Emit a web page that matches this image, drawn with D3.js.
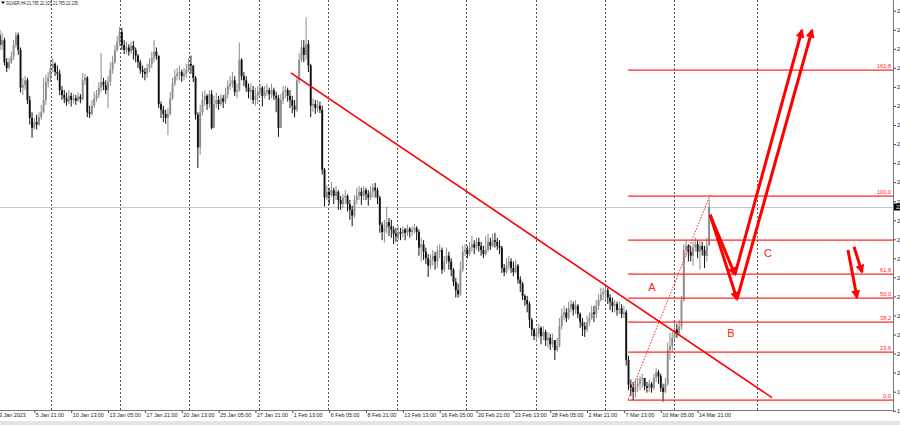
<!DOCTYPE html>
<html><head><meta charset="utf-8">
<script src="https://cdn.jsdelivr.net/npm/d3@7/dist/d3.min.js"></script>
<style>html,body{margin:0;padding:0;background:#fff;overflow:hidden}svg{display:block}</style>
</head><body>
<svg id="c" width="900" height="425"></svg>
<script>
// ---------- DATA ----------
const symbolTitle = "SILVER,H4";
const lastBarOHLC = ["21.765", "22.325", "21.765", "22.235"];
const firstOpen = 24.27;
const closes = [
24.33,24.21,24.27,24.00,23.93,24.00,24.07,24.21,24.33,24.15,
23.69,23.72,23.78,23.54,23.32,23.20,23.27,23.24,23.33,23.39,
23.54,23.76,23.81,23.93,23.98,23.88,23.86,23.66,23.60,23.56,
23.52,23.59,23.54,23.56,23.53,23.58,23.55,23.78,23.81,23.39,
23.37,23.47,23.56,23.60,23.69,23.76,23.72,23.66,23.76,23.91,
24.00,24.15,24.25,24.37,24.21,24.15,24.18,24.13,24.20,24.15,
24.08,24.00,23.91,23.88,23.86,23.93,23.98,24.05,24.13,24.08,
23.49,23.42,23.37,23.32,23.37,23.56,23.74,23.83,23.86,23.88,
23.83,23.86,23.91,23.98,23.96,23.81,23.36,22.96,23.39,23.54,
23.59,23.49,23.61,23.20,23.49,23.54,23.49,23.56,23.52,23.61,
23.71,23.74,23.78,23.64,23.66,24.03,23.83,23.78,23.69,23.64,
23.66,23.54,23.59,23.64,23.69,23.59,23.64,23.66,23.61,23.66,
23.59,23.56,23.20,23.54,23.64,23.66,23.59,23.54,23.47,23.42,
23.78,24.03,24.18,24.09,24.22,23.96,23.47,23.49,23.44,23.47,
23.42,22.69,22.35,22.42,22.38,22.44,22.37,22.42,22.32,22.27,
22.35,22.37,22.27,22.20,22.13,22.32,22.37,22.42,22.37,22.44,
22.39,22.35,22.42,22.47,22.44,22.35,22.02,21.93,21.98,22.05,
22.00,21.96,21.91,21.88,21.93,21.91,21.96,21.92,21.97,21.93,
21.96,21.98,21.93,21.74,21.78,21.69,21.61,21.52,21.59,21.64,
21.57,21.69,21.71,21.47,21.57,21.64,21.57,21.47,21.32,21.22,
21.17,21.47,21.69,21.71,21.66,21.74,21.78,21.74,21.81,21.76,
21.71,21.66,21.71,21.81,21.76,21.83,21.81,21.76,21.74,21.49,
21.44,21.52,21.57,21.49,21.44,21.52,21.35,21.30,21.15,21.10,
21.05,20.86,20.74,20.66,20.69,20.76,20.66,20.71,20.61,20.64,
20.56,20.61,20.49,20.54,20.78,20.91,20.95,20.88,21.00,21.05,
20.98,21.03,20.93,20.83,20.78,20.74,20.83,20.88,20.95,20.93,
21.03,21.10,21.17,21.20,21.22,21.13,21.08,21.03,21.05,20.98,
21.00,20.93,20.95,20.37,20.07,20.03,19.98,20.05,20.08,20.13,
20.15,20.05,20.03,20.08,20.03,20.15,20.22,20.17,20.03,19.98,
20.08,20.49,20.54,20.64,20.74,20.69,20.78,21.10,21.71,21.76,
21.69,21.64,21.74,21.78,21.69,21.76,21.71,21.64,21.765,22.235];
const highs = [
24.45,24.39,24.36,24.30,24.05,24.05,24.13,24.27,24.37,24.36,
24.18,23.81,23.83,23.81,23.59,23.39,23.32,23.36,23.39,23.48,
23.81,23.85,23.88,24.03,24.05,24.00,23.96,23.91,23.71,23.66,
23.63,23.66,23.63,23.61,23.60,23.63,23.61,23.87,23.86,23.83,
23.47,23.54,23.64,23.66,23.76,24.11,23.81,23.78,23.83,24.00,
24.08,24.21,24.32,24.43,24.42,24.27,24.25,24.22,24.25,24.26,
24.18,24.10,24.03,23.96,23.93,23.98,24.05,24.13,24.27,24.18,
24.03,23.52,23.47,23.42,23.44,23.64,23.81,23.91,23.93,23.96,
23.91,23.93,23.98,24.05,24.08,23.93,23.83,23.39,23.48,23.64,
23.66,23.61,23.66,23.66,23.59,23.63,23.59,23.61,23.60,23.69,
23.78,23.83,23.88,23.83,23.74,24.24,24.05,23.88,23.83,23.74,
23.74,23.71,23.69,23.71,23.74,23.71,23.71,23.74,23.69,23.74,
23.69,23.64,23.60,23.61,23.71,23.71,23.69,23.66,23.59,23.54,
23.83,24.11,24.27,24.27,24.55,24.27,23.98,23.56,23.54,23.54,
23.52,23.47,22.71,22.50,22.47,22.54,22.47,22.49,22.44,22.37,
22.39,22.44,22.39,22.32,22.25,22.38,22.47,22.49,22.47,22.49,
22.47,22.44,22.49,22.52,22.53,22.47,22.37,22.05,22.08,22.24,
22.10,22.08,22.00,21.98,22.00,21.98,22.00,21.98,22.02,21.99,
22.00,22.03,22.00,21.96,21.86,21.83,21.74,21.66,21.66,21.71,
21.69,21.76,21.78,21.74,21.64,21.74,21.69,21.61,21.49,21.37,
21.30,21.57,21.76,21.78,21.76,21.81,21.88,21.83,21.86,21.86,
21.81,21.76,21.88,21.91,21.86,21.91,21.92,21.86,21.83,21.76,
21.54,21.61,21.64,21.61,21.57,21.59,21.54,21.39,21.32,21.17,
21.15,21.08,20.88,20.76,20.76,20.81,20.78,20.78,20.74,20.71,
20.69,20.69,20.61,20.64,20.88,21.00,21.03,21.00,21.08,21.10,
21.08,21.10,21.05,20.95,20.88,20.83,20.91,20.95,21.03,21.03,
21.10,21.17,21.25,21.25,21.28,21.25,21.17,21.13,21.10,21.08,
21.08,21.05,21.03,20.98,20.42,20.13,20.10,20.13,20.15,20.17,
20.20,20.15,20.10,20.13,20.10,20.20,20.27,20.25,20.20,20.08,
20.15,20.58,20.70,20.71,20.83,20.81,20.86,21.15,21.78,21.83,
21.78,21.76,21.81,21.86,21.83,21.83,21.81,21.76,21.86,22.325];
const lows = [
24.21,24.15,24.15,23.96,23.88,23.91,23.98,24.03,24.18,24.09,
23.63,23.60,23.66,23.49,23.24,23.08,23.18,23.18,23.22,23.30,
23.38,23.48,23.69,23.76,23.88,23.83,23.78,23.60,23.54,23.50,
23.47,23.49,23.46,23.50,23.48,23.52,23.50,23.53,23.72,23.33,
23.32,23.35,23.44,23.52,23.56,23.64,23.66,23.61,23.44,23.71,
23.86,23.98,24.13,24.20,24.15,24.10,24.10,24.08,24.10,24.03,
24.00,23.93,23.86,23.81,23.78,23.81,23.88,23.93,24.00,24.03,
23.44,23.32,23.27,23.25,23.11,23.35,23.54,23.71,23.78,23.78,
23.76,23.78,23.81,23.88,23.86,23.76,23.30,22.71,22.87,23.35,
23.47,23.42,23.44,23.18,23.20,23.44,23.42,23.47,23.44,23.49,
23.56,23.66,23.69,23.59,23.56,23.64,23.78,23.71,23.64,23.56,
23.54,23.49,23.47,23.49,23.59,23.46,23.56,23.59,23.54,23.56,
23.54,23.39,23.09,23.25,23.49,23.56,23.52,23.44,23.38,23.33,
23.39,23.74,24.00,24.00,24.03,23.88,23.33,23.39,23.37,23.39,
23.38,22.63,22.24,22.32,22.26,22.35,22.27,22.32,22.20,22.20,
22.22,22.27,22.18,22.08,22.00,22.10,22.27,22.32,22.26,22.32,
22.32,22.25,22.32,22.35,22.35,22.27,21.92,21.83,21.80,21.91,
21.88,21.86,21.78,21.81,21.83,21.83,21.86,21.83,21.88,21.86,
21.88,21.91,21.83,21.64,21.57,21.59,21.54,21.38,21.47,21.52,
21.47,21.49,21.61,21.42,21.44,21.54,21.47,21.39,21.27,21.13,
21.13,21.15,21.44,21.64,21.61,21.64,21.69,21.66,21.71,21.69,
21.64,21.61,21.64,21.69,21.71,21.74,21.74,21.71,21.66,21.43,
21.39,21.42,21.47,21.43,21.39,21.42,21.30,21.20,21.10,21.03,
20.95,20.76,20.66,20.61,20.59,20.64,20.56,20.61,20.54,20.52,
20.49,20.52,20.37,20.47,20.52,20.74,20.86,20.83,20.86,20.95,
20.91,20.93,20.88,20.76,20.66,20.65,20.71,20.78,20.86,20.83,
20.88,20.98,21.08,21.10,21.10,21.05,20.98,20.95,20.95,20.91,
20.93,20.88,20.88,20.30,20.00,19.93,19.88,19.91,19.98,20.00,
20.03,20.00,19.97,19.98,19.97,20.00,20.10,20.08,19.98,19.86,
19.96,20.05,20.37,20.47,20.61,20.64,20.66,20.74,21.08,21.64,
21.57,21.57,21.52,21.69,21.61,21.47,21.64,21.49,21.57,21.765];

const timeTickBars = [0,16,32,48,64,80,96,112,128,144,160,176,192,208,224,240,256,272,288,304];
const timeLabels = ["3 Jan 2023","5 Jan 21:00","10 Jan 13:00","13 Jan 05:00","17 Jan 21:00","20 Jan 13:00",
  "25 Jan 05:00","27 Jan 21:00","1 Feb 13:00","6 Feb 05:00","8 Feb 21:00","13 Feb 13:00","16 Feb 05:00",
  "20 Feb 21:00","23 Feb 13:00","28 Feb 05:00","2 Mar 21:00","7 Mar 13:00","10 Mar 05:00","14 Mar 21:00"];
const separatorBars = [23.25,53.25,83.25,113.5,143.5,173.5,203.5,233.75,263.75,293.75,329.75];
const priceTicks = [24.628,24.396,24.164,23.931,23.699,23.467,23.235,23.002,22.770,22.538,22.305,
  22.073,21.841,21.608,21.376,21.144,20.912,20.679,20.447,20.215,19.982,19.750];
const bidPrice = 22.235;

// Fibonacci retracement
const fibStartBar = 273.8, fibEndBar = 309.4;
const fibLow = 19.89, fibHigh = 22.38;
const fibLevels = [0, 23.6, 38.2, 50.0, 61.8, 78.6, 100.0, 161.8];
const fibLabels = ["0.0","23.6","38.2","50.0","61.8","","100.0","161.8"];

// trend line
const trendLine = [{bar:127.4, price:23.87},{bar:336.3, price:19.91}];

// projected arrows (from -> to)
const arrows = [
  {from:{bar:309.4,price:22.14}, to:{bar:320.2,price:21.41}},
  {from:{bar:320.2,price:21.41}, to:{bar:349.3,price:24.39}},
  {from:{bar:309.4,price:22.14}, to:{bar:321.1,price:21.11}},
  {from:{bar:321.1,price:21.11}, to:{bar:353.7,price:24.39}},
  {from:{bar:369.3,price:21.71}, to:{bar:373.2,price:21.13}},
  {from:{bar:371.9,price:21.75}, to:{bar:375.4,price:21.44}}
];
const waveLabels = [
  {text:"A", bar:284.2, price:21.26},
  {text:"B", bar:318.5, price:20.70},
  {text:"C", bar:334.6, price:21.67}
];

// ---------- CHART ----------
const svg = d3.select("#c");
const plotR = 893, plotB = 410;
const x = d3.scaleLinear().domain([0, 100]).range([-2.5, -2.5 + 230.3]);
const y = d3.scaleLinear().domain([19.759, 24.759]).range([plotB, 0]);
const FONT = "'Liberation Sans', Arial, sans-serif";
const RED = "rgb(255,0,0)";
const FIBRED = "rgb(255,30,30)";

svg.append("rect").attr("width",900).attr("height",425).attr("fill","#fff");
svg.append("rect").attr("x",0).attr("y",421).attr("width",900).attr("height",4).attr("fill","#e4e4e4");

const defs = svg.append("defs");
defs.append("clipPath").attr("id","plot").append("rect").attr("x",0).attr("y",0).attr("width",plotR).attr("height",plotB);
defs.append("marker").attr("id","ah").attr("viewBox","0 0 10 10").attr("refX",8).attr("refY",5)
  .attr("markerWidth",10).attr("markerHeight",9).attr("markerUnits","userSpaceOnUse").attr("orient","auto")
  .append("path").attr("d","M0,0 L10,5 L0,10 z").style("fill",RED);

const plot = svg.append("g").attr("clip-path","url(#plot)");

// weekly separators
plot.selectAll("line.sep").data(separatorBars).join("line").attr("class","sep")
  .attr("x1",d=>Math.round(x(d))+0.5).attr("x2",d=>Math.round(x(d))+0.5)
  .attr("y1",0).attr("y2",plotB)
  .style("stroke","#555").style("stroke-width",1).style("stroke-dasharray","2,2");

// bid line
plot.append("line").attr("x1",0).attr("x2",plotR).attr("y1",Math.round(y(bidPrice))+0.5).attr("y2",Math.round(y(bidPrice))+0.5)
  .style("stroke","#c8c8c8").style("stroke-width",1);

// candles
const bars = closes.map((c,i)=>{
  const o = i===0 ? firstOpen : closes[i-1];
  return {i, o, c, h: Math.max(highs[i], o, c), l: Math.min(lows[i], o, c)};
});
const cg = plot.append("g");
const col = d => d.c >= d.o ? "#8c8c8c" : "#111";
cg.selectAll("line.w").data(bars).join("line").attr("class","w")
  .attr("x1",d=>x(d.i)).attr("x2",d=>x(d.i)).attr("y1",d=>y(d.h)).attr("y2",d=>y(d.l))
  .style("stroke",col).style("stroke-width",1);
cg.selectAll("rect.b").data(bars).join("rect").attr("class","b")
  .attr("x",d=>x(d.i)-0.95).attr("width",1.9)
  .attr("y",d=>y(Math.max(d.o,d.c))).attr("height",d=>Math.max(1,Math.abs(y(d.o)-y(d.c))))
  .style("fill",col);

// fibonacci levels
const fibPrice = lv => fibLow + (fibHigh - fibLow) * lv / 100;
const fg = plot.append("g").attr("class","fib");
fg.selectAll("rect.fl").data(fibLevels).join("rect").attr("class","fl")
  .attr("x",x(fibStartBar)).attr("width",plotR - x(fibStartBar))
  .attr("y",d=>Math.round(y(fibPrice(d)))+0.5).attr("height",1.2)
  .style("fill",FIBRED);
fg.selectAll("text.ft").data(fibLevels).join("text").attr("class","ft")
  .attr("x",plotR-2).attr("y",d=>Math.round(y(fibPrice(d)))-1)
  .attr("text-anchor","end").attr("font-family",FONT).attr("font-size",5.6)
  .style("fill",FIBRED).text((d,i)=>fibLabels[i]);
plot.append("line")
  .attr("x1",x(fibStartBar)).attr("y1",y(fibLow)).attr("x2",x(fibEndBar)).attr("y2",y(fibHigh))
  .style("stroke",FIBRED).style("stroke-width",1).style("stroke-dasharray","1.5,1.5");

// trend line
plot.append("line")
  .attr("x1",x(trendLine[0].bar)).attr("y1",y(trendLine[0].price))
  .attr("x2",x(trendLine[1].bar)).attr("y2",y(trendLine[1].price))
  .style("stroke",RED).style("stroke-width",1.6);

// arrows
plot.selectAll("line.arr").data(arrows).join("line").attr("class","arr")
  .attr("x1",d=>x(d.from.bar)).attr("y1",d=>y(d.from.price))
  .attr("x2",d=>x(d.to.bar)).attr("y2",d=>y(d.to.price))
  .style("stroke",RED).style("stroke-width",3).attr("marker-end","url(#ah)");

// wave labels
plot.selectAll("text.wl").data(waveLabels).join("text").attr("class","wl")
  .attr("x",d=>x(d.bar)).attr("y",d=>y(d.price)+4).attr("text-anchor","middle")
  .attr("font-family",FONT).attr("font-size",11).style("fill","rgb(255,32,32)").text(d=>d.text);

// right price axis
const ya = d3.axisRight(y).tickValues(priceTicks).tickFormat(d3.format(".3f")).tickSize(3).tickPadding(1);
const yg = svg.append("g").attr("transform",`translate(${plotR},0)`).call(ya);
yg.select(".domain").remove();
yg.selectAll(".tick line").style("stroke","#444");
yg.selectAll(".tick text").attr("font-family",FONT).attr("font-size",5.6).style("fill","#222");
svg.append("line").attr("x1",plotR+0.5).attr("x2",plotR+0.5).attr("y1",0).attr("y2",plotB+1).style("stroke","#777");

// bid box
svg.append("rect").attr("x",plotR+1).attr("y",y(bidPrice)-3.5).attr("width",10).attr("height",7).style("fill","#000");
svg.append("text").attr("x",plotR+3).attr("y",y(bidPrice)+2).attr("font-family",FONT).attr("font-size",5.6)
  .style("fill","#fff").text(lastBarOHLC[3]);

// bottom time axis
const xa = d3.axisBottom(x).tickValues(timeTickBars).tickFormat((d,i)=>timeLabels[i]).tickSize(3).tickPadding(1);
const xg = svg.append("g").attr("transform",`translate(0,${plotB})`).call(xa);
xg.select(".domain").remove();
xg.selectAll(".tick line").style("stroke","#444");
xg.selectAll(".tick text").attr("font-family",FONT).attr("font-size",5.4).style("fill","#222")
  .attr("text-anchor","start").attr("dx",1).attr("dy","0.5em");
svg.append("line").attr("x1",0).attr("x2",plotR+1).attr("y1",plotB+0.5).attr("y2",plotB+0.5).style("stroke","#777");

// header
svg.append("path").attr("d","M1,1.5 L5,1.5 L3,4 z").style("fill","#000");
svg.append("text").attr("x",6).attr("y",4.5).attr("font-family",FONT).attr("font-size",5)
  .style("fill","#222").attr("textLength",72).attr("lengthAdjust","spacingAndGlyphs")
  .text(symbolTitle + "  " + lastBarOHLC.join(" "));
</script>
</body></html>
